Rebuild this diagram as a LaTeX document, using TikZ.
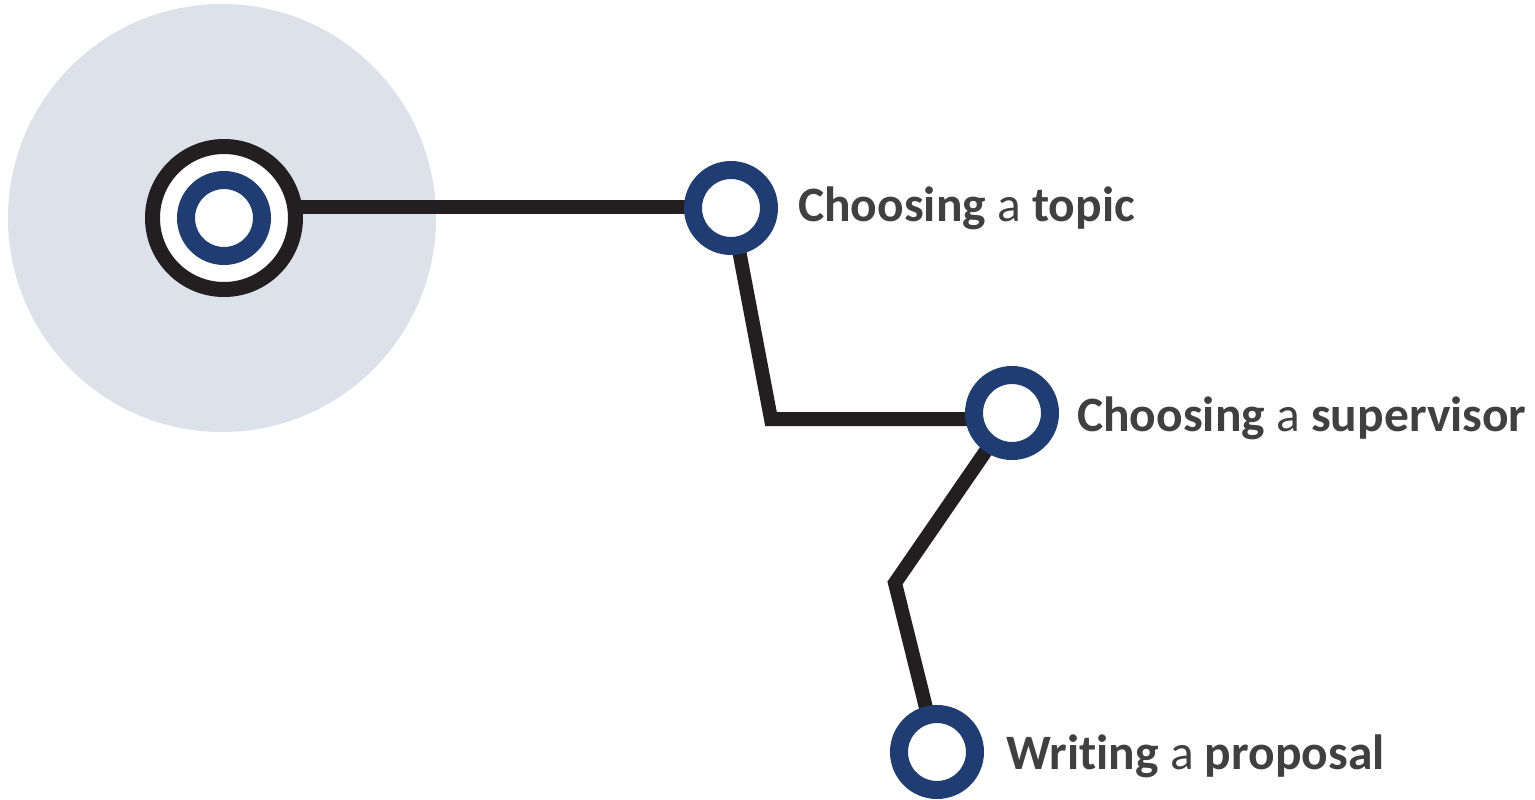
\documentclass[tikz,border=0pt]{standalone}
\usepackage{fontspec}
\setmainfont{Carlito}[Ligatures=NoCommon]
\definecolor{halo}{HTML}{DCE1EA}
\definecolor{ringblue}{HTML}{1F3C73}
\definecolor{linedark}{HTML}{231F20}
\definecolor{txt}{HTML}{404040}
\tikzset{
  conn/.style={draw=linedark, line width=14pt, line join=miter},
  stop/.style={circle, draw=ringblue, line width=18pt, fill=white, minimum size=76pt, inner sep=0pt},
  lbl/.style={anchor=base west, text=txt, font=\fontsize{49.5}{56}\selectfont, inner sep=0pt}
}
\begin{document}
\begin{tikzpicture}[x=1pt,y=-1pt]
\useasboundingbox (0,0) rectangle (1535,800);
\fill[halo] (222,218) circle (214);
% connectors
\coordinate (c1) at (771,419);
\coordinate (c2) at (895,583);
\node[circle, minimum size=142pt, inner sep=0pt] (start) at (224,218) {};
\node[circle, minimum size=94pt, inner sep=0pt] (topicA) at (731,208) {};
\draw[conn] (start.east |- 0,207) -- (topicA.center |- 0,207);
\draw[conn] (topicA.center) -- (c1) -- (1012,419);
\draw[conn] (1012,413) -- (c2) -- (937,752);
% start node
\draw[linedark, line width=15pt, fill=white] (224,218) circle (71.5);
\node[stop, minimum size=76pt] (origin) at (224,218) {};
% stops
\node[stop] (topic) at (731,208) {};
\node[stop] (sup) at (1012,413) {};
\node[stop] (prop) at (937,752) {};
% labels
\node[lbl] (lt) at (798,221) {\textbf{Choosing} a \textbf{topic}};
\node[lbl] (ls) at (1077,431) {\textbf{Choosing} a \textbf{supervisor}};
\node[lbl] (lp) at (1006,769) {\textbf{Writing} a \textbf{proposal}};
\end{tikzpicture}
\end{document}
